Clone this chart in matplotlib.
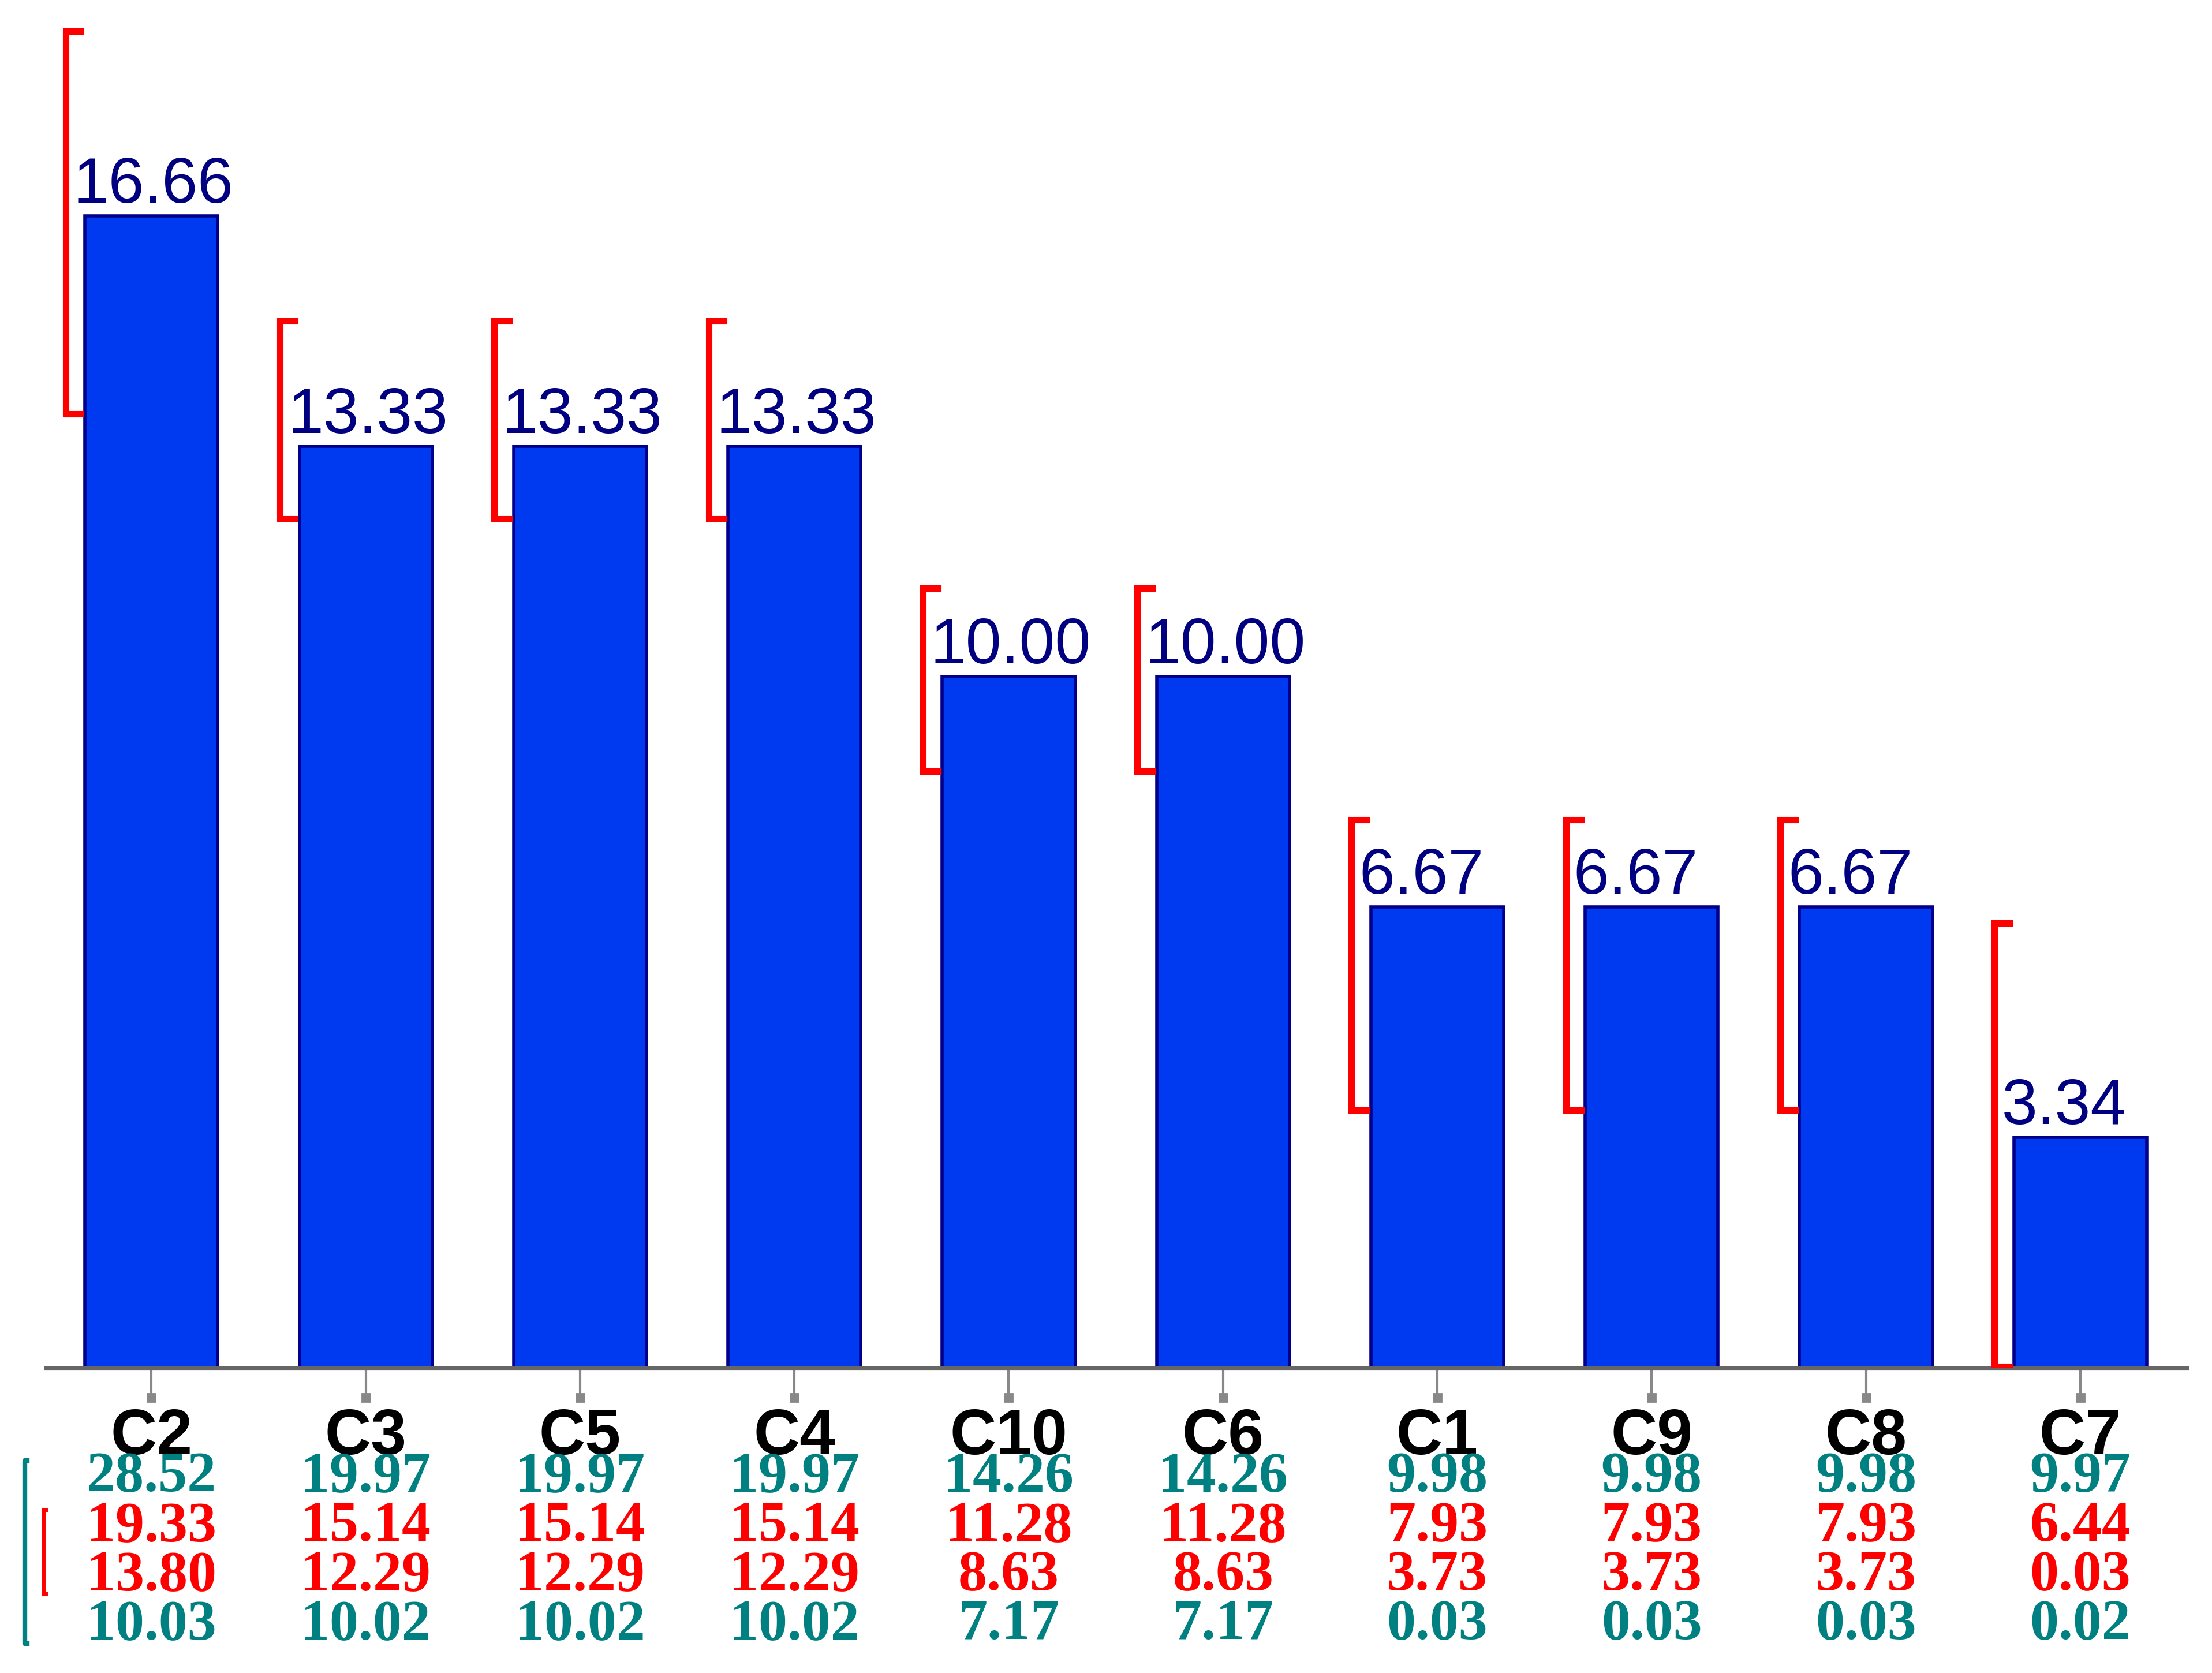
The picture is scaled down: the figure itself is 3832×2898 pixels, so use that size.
import matplotlib.pyplot as plt
import numpy as np

categorias = ['C2', 'C3', 'C5', 'C4', 'C10', 'C6', 'C1', 'C9', 'C8', 'C7']
valores = [16.66, 13.33, 13.33, 13.33, 10.00, 10.00, 6.67, 6.67, 6.67, 3.34]
externo_sup = [28.52, 19.97, 19.97, 19.97, 14.26, 14.26, 9.98, 9.98, 9.98, 9.97]
interno_sup = [19.33, 15.14, 15.14, 15.14, 11.28, 11.28, 7.93, 7.93, 7.93, 6.44]
interno_inf = [13.80, 12.29, 12.29, 12.29, 8.63, 8.63, 3.73, 3.73, 3.73, 0.03]
externo_inf = [10.03, 10.02, 10.02, 10.02, 7.17, 7.17, 0.03, 0.03, 0.03, 0.02]

AZUL = '#003af0'
MARINHO = '#000080'
VERDE = '#008080'
VERMELHO = '#ff0000'

fig = plt.figure(figsize=(19.16, 14.49), dpi=200)
ax = fig.add_axes([0.021, 0.1821, 0.9675, 0.8179])

x = np.arange(len(categorias))
largura = 0.62

ax.bar(x, valores, width=largura, color=AZUL, edgecolor='#00008b', linewidth=2, zorder=2)

for i, v in enumerate(valores):
    ax.text(x[i] - largura / 2 - 0.055, v + 0.19, f'{v:.2f}', ha='left', va='baseline',
            fontsize=40, color=MARINHO, family='Liberation Sans')
    # colchete vermelho com o intervalo interno
    xb = x[i] - largura / 2 - 0.09
    ax.plot([xb + 0.07, xb, xb, xb + 0.07], [interno_sup[i], interno_sup[i], interno_inf[i], interno_inf[i]],
            color=VERMELHO, linewidth=4, solid_joinstyle='miter', zorder=3)

ax.set_xlim(-0.49, 9.496)
ax.set_ylim(0, 19.78)
for lado in ['top', 'right', 'left']:
    ax.spines[lado].set_visible(False)
ax.spines['bottom'].set_color('#666666')
ax.spines['bottom'].set_linewidth(2.6)
ax.set_yticks([])
ax.set_xticks(x)
ax.set_xticklabels([])
ax.tick_params(axis='x', length=18, width=1.5, color='#888888', direction='out')
ax.plot(x, np.full(len(x), -0.42), 's', color='#888888', markersize=5, clip_on=False)

# rótulos e tabela abaixo do eixo
for i, c in enumerate(categorias):
    ax.text(x[i], -1.0, c, ha='center', va='center', fontsize=40, fontweight='bold',
            color='black', family=['Liberation Sans Narrow', 'Liberation Sans'], clip_on=False)
    linhas = [(externo_sup[i], VERDE, -1.58), (interno_sup[i], VERMELHO, -2.29),
              (interno_inf[i], VERMELHO, -3.00), (externo_inf[i], VERDE, -3.71)]
    for val, cor, y in linhas:
        ax.text(x[i], y, f'{val:.2f}', ha='center', va='center', fontsize=36, fontweight='bold',
                color=cor, family='Liberation Serif', clip_on=False)

# colchetes à esquerda da tabela
ax.plot([-0.58, -0.59, -0.59, -0.58], [-1.33, -1.33, -3.98, -3.98], color=VERDE, linewidth=3, clip_on=False)
ax.plot([-0.494, -0.504, -0.504, -0.494], [-2.04, -2.04, -3.26, -3.26], color=VERMELHO, linewidth=2.5, clip_on=False)

plt.savefig('out.png', dpi=200)
